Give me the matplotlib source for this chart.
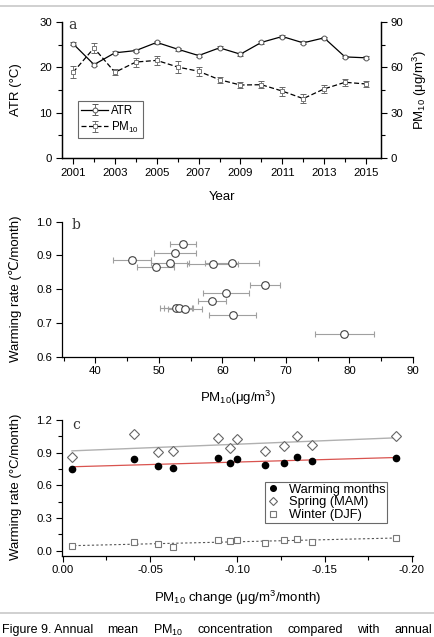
import numpy as np
import matplotlib as mpl
import matplotlib.pyplot as plt
from matplotlib.lines import Line2D
from matplotlib.ticker import MultipleLocator

plt.rcParams['font.family'] = ['Liberation Sans', 'DejaVu Sans']
plt.rcParams['mathtext.fontset'] = 'custom'
plt.rcParams['mathtext.rm'] = 'Liberation Sans'
plt.rcParams['mathtext.it'] = 'Liberation Sans:italic'

# panel a: annual series
years = list(range(2001, 2016))
atr = [25.2, 20.6, 23.2, 23.7, 25.5, 24.0, 22.6, 24.3, 22.9, 25.5, 26.8, 25.4, 26.5, 22.3, 22.1]
atr_err = [0.3, 0.3, 0.3, 0.3, 0.3, 0.3, 0.3, 0.3, 0.3, 0.3, 0.3, 0.3, 0.3, 0.3, 0.3]
pm10 = [56.7, 72.8, 56.7, 63.5, 64.6, 60.2, 57.4, 51.8, 48.3, 48.5, 44.3, 39.3, 45.7, 50.1, 49.0]
pm10_err = [4.0, 3.5, 2.0, 3.0, 3.0, 4.0, 3.0, 2.0, 2.0, 2.5, 3.0, 3.0, 2.5, 2.5, 2.0]

# panel b: PM10 vs warming rate
pm_b = [53.8, 52.6, 45.7, 51.8, 49.5, 58.5, 61.5, 66.7, 60.6, 58.3, 52.7, 53.1, 54.1, 61.6, 79.2]
pm_b_err = [2.1, 3.3, 3.0, 3.0, 2.9, 4.0, 4.3, 2.3, 3.6, 2.2, 2.5, 2.3, 2.7, 3.7, 4.6]
rate_b = [0.934, 0.908, 0.886, 0.879, 0.865, 0.874, 0.877, 0.812, 0.788, 0.764, 0.745, 0.745, 0.740, 0.723, 0.667]
rate_b_err = [0.009, 0.008, 0.008, 0.008, 0.008, 0.009, 0.008, 0.009, 0.008, 0.008, 0.008, 0.008, 0.008, 0.008, 0.009]

# panel c: PM10 change vs warming rate
pm_change = [-0.0053, -0.041, -0.0546, -0.0632, -0.0892, -0.0959, -0.0999, -0.116, -0.1265, -0.134, -0.1429, -0.191]
warm_months = [0.747, 0.842, 0.777, 0.759, 0.854, 0.802, 0.839, 0.787, 0.802, 0.863, 0.823, 0.854]
spring = [0.863, 1.068, 0.906, 0.912, 1.035, 0.946, 1.022, 0.918, 0.964, 1.050, 0.973, 1.050]
winter = [0.046, 0.080, 0.058, 0.031, 0.098, 0.086, 0.095, 0.067, 0.098, 0.110, 0.080, 0.119]

caption_words = ['Figure 9. Annual', 'mean', 'PM$_{10}$', 'concentration', 'compared', 'with', 'annual']

W, H = 434, 637
fig = plt.figure(figsize=(W / 100, H / 100), dpi=100)


def px(x, y):
    return x / W, 1 - y / H


def axes_px(left, top, right, bottom):
    return fig.add_axes([left / W, 1 - bottom / H, (right - left) / W, (bottom - top) / H])


def style(ax):
    ax.tick_params(which='major', direction='out', length=4.5, width=0.8, labelsize=8.2, pad=2.5)
    ax.tick_params(which='minor', direction='out', length=2.8, width=0.8)
    for s in ax.spines.values():
        s.set_linewidth(0.9)


# ---------- a ----------
ax1 = axes_px(62, 22, 381, 158)
ax1.errorbar(years, atr, yerr=atr_err, color='black', lw=0.9, marker='o', ms=3.5,
             mfc='white', mec='#555555', mew=0.7, ecolor='#555555', elinewidth=0.6, capsize=2,
             capthick=0.6, label='ATR')
ax1.set_xlim(2000.47, 2015.72)
ax1.set_ylim(0, 30)
ax1.set_xticks(range(2001, 2016, 2))
ax1.xaxis.set_minor_locator(MultipleLocator(1))
ax1.yaxis.set_major_locator(MultipleLocator(10))
ax1.yaxis.set_minor_locator(MultipleLocator(5))
ax1.spines['top'].set_visible(False)
style(ax1)

ax1r = ax1.twinx()
ax1r.errorbar(years, pm10, yerr=pm10_err, color='black', lw=0.9, ls=(0, (4, 2)), marker='s', ms=3,
              mfc='white', mec='#777777', mew=0.7, ecolor='#666666', elinewidth=0.6, capsize=2,
              capthick=0.6, label='PM$_{10}$')
ax1r.set_ylim(0, 90)
ax1r.yaxis.set_major_locator(MultipleLocator(30))
ax1r.yaxis.set_minor_locator(MultipleLocator(15))
ax1r.spines['top'].set_visible(False)
style(ax1r)

h1, l1 = ax1.get_legend_handles_labels()
h2, l2 = ax1r.get_legend_handles_labels()
leg = ax1r.legend(h1 + h2, l1 + l2, loc='lower left', bbox_to_anchor=(0.05, 0.147),
                  fontsize=8.3, frameon=True, fancybox=False, edgecolor='#444444',
                  handlelength=2.3, handletextpad=0.3, borderpad=0.3, labelspacing=0.25,
                  borderaxespad=0)
leg.get_frame().set_linewidth(0.8)
ax1.text(0.02, 0.975, 'a', transform=ax1.transAxes, family='DejaVu Serif', fontsize=10,
         color='#333333', va='center', ha='left')

fig.text(*px(222, 197), 'Year', ha='center', va='center', fontsize=9.5)
fig.text(*px(16, 90), 'ATR (°C)', ha='center', va='center', rotation=90, fontsize=9.5)
fig.text(*px(420, 90), 'PM$_{10}$ (μg/m$^3$)', ha='center', va='center', rotation=90, fontsize=9.5)

# ---------- b ----------
ax2 = axes_px(62, 221.7, 413, 356.7)
ax2.errorbar(pm_b, rate_b, xerr=pm_b_err, yerr=rate_b_err, fmt='o', ms=5.5, mfc='white',
             mec='#444444', mew=0.8, ecolor='#a0a0a0', elinewidth=0.8, capsize=2.2, capthick=0.8)
ax2.set_xlim(34.75, 90)
ax2.set_ylim(0.6, 1.0)
ax2.xaxis.set_major_locator(MultipleLocator(10))
ax2.xaxis.set_minor_locator(MultipleLocator(5))
ax2.yaxis.set_major_locator(MultipleLocator(0.1))
ax2.yaxis.set_major_formatter(mpl.ticker.FormatStrFormatter('%.1f'))
ax2.spines['top'].set_visible(False)
ax2.spines['right'].set_visible(False)
style(ax2)
ax2.text(0.04, 0.975, 'b', transform=ax2.transAxes, family='DejaVu Serif', fontsize=10,
         color='#333333', va='center', ha='center')

fig.text(*px(238, 398), 'PM$_{10}$(μg/m$^3$)', ha='center', va='center', fontsize=9.5)
fig.text(*px(16, 289), 'Warming rate (℃/month)', ha='center', va='center', rotation=90, fontsize=9.5)

# ---------- c ----------
ax3 = axes_px(62, 420, 413, 555.7)
xs = np.array(pm_change)
xfit = np.array([xs.min(), xs.max()])
fit_w = np.polyfit(xs, warm_months, 1)
fit_s = np.polyfit(xs, spring, 1)
fit_d = np.polyfit(xs, winter, 1)
ax3.plot(xfit, np.polyval(fit_s, xfit), color='#b0b0b0', lw=1.0)
ax3.plot(xfit, np.polyval(fit_w, xfit), color='#d9534f', lw=0.9)
ax3.plot(xfit, np.polyval(fit_d, xfit), color='#555555', lw=0.8, ls=(0, (2, 2)))
ax3.plot(pm_change, warm_months, 'o', ms=4.5, color='black', ls='none', label='Warming months')
ax3.plot(pm_change, spring, 'D', ms=5, mfc='white', mec='#666666', mew=0.8, ls='none',
         label='Spring (MAM)')
ax3.plot(pm_change, winter, 's', ms=4.5, mfc='white', mec='#777777', mew=0.8, ls='none',
         label='Winter (DJF)')
ax3.set_xlim(0.0004, -0.2006)
ax3.set_ylim(-0.046, 1.2)
ax3.xaxis.set_major_locator(MultipleLocator(0.05))
ax3.xaxis.set_minor_locator(MultipleLocator(0.025))
ax3.xaxis.set_major_formatter(mpl.ticker.FormatStrFormatter('%.2f'))
ax3.yaxis.set_major_locator(MultipleLocator(0.3))
ax3.yaxis.set_minor_locator(MultipleLocator(0.15))
ax3.yaxis.set_major_formatter(mpl.ticker.FormatStrFormatter('%.1f'))
ax3.spines['top'].set_visible(False)
ax3.spines['right'].set_visible(False)
style(ax3)
leg3 = ax3.legend(loc='lower left', bbox_to_anchor=(0.578, 0.241), fontsize=9.3, frameon=True,
                  fancybox=False, edgecolor='#444444', handlelength=1.0, handletextpad=0.7,
                  borderpad=0.15, labelspacing=0.05, borderaxespad=0, markerscale=0.9)
leg3.get_frame().set_linewidth(0.8)
ax3.text(0.04, 0.965, 'c', transform=ax3.transAxes, family='DejaVu Serif', fontsize=10,
         color='#333333', va='center', ha='center')

fig.text(*px(238, 598), 'PM$_{10}$ change (μg/m$^3$/month)', ha='center', va='center', fontsize=9.5)
fig.text(*px(16, 487), 'Warming rate (°C/month)', ha='center', va='center', rotation=90, fontsize=9.5)

# frame lines
fig.add_artist(Line2D([0, 1], [1 - 6 / H, 1 - 6 / H], color='#c8c8c8', lw=1.2))
fig.add_artist(Line2D([0, 1], [1 - 613 / H, 1 - 613 / H], color='#c8c8c8', lw=1.2))

# justified caption line
cap_y = 630
cap_fs = 9
words = [fig.text(*px(0, cap_y), w, ha='left', va='center', fontsize=cap_fs) for w in caption_words]
renderer = fig.canvas.get_renderer()
widths = [t.get_window_extent(renderer).width for t in words]
x_left, x_right = 2, 432
gap = (x_right - x_left - sum(widths)) / (len(words) - 1)
x = x_left
for t, w in zip(words, widths):
    t.set_position(px(x, cap_y))
    x += w + gap

fig.savefig('out.png', dpi=100)
